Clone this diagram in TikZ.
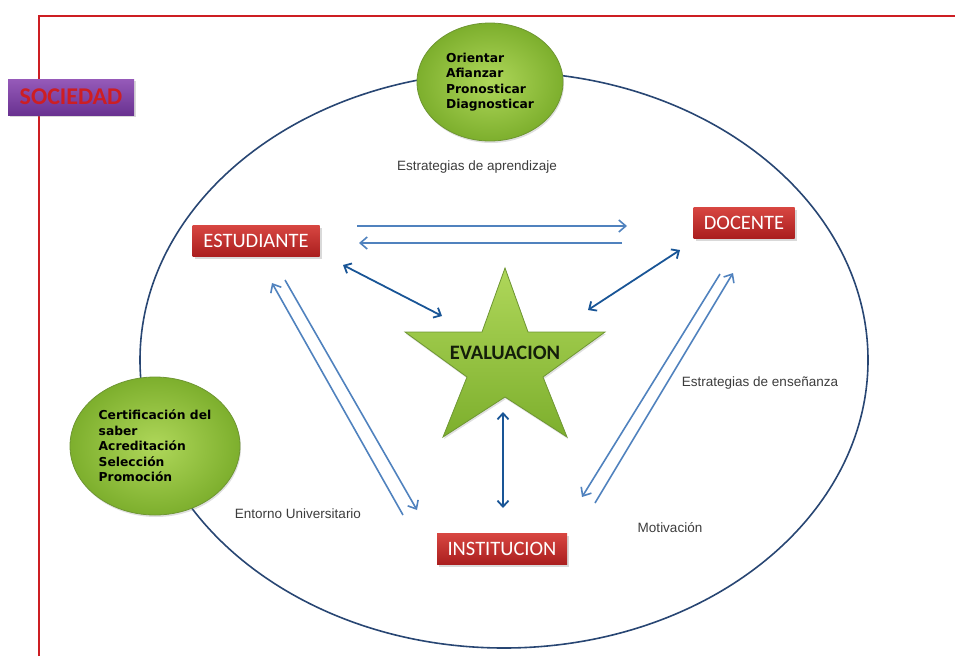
\documentclass[tikz,border=0pt]{standalone}
\usepackage{fontspec}
\setmainfont{Liberation Sans}
\newfontfamily\boxfont{Carlito}
\newfontfamily\leaffont{DejaVu Sans}[BoldFont={DejaVu Sans Bold}]
\usetikzlibrary{arrows.meta,shadows,shapes.geometric}

\definecolor{framered}{RGB}{205,30,35}
\definecolor{ringblue}{RGB}{40,70,115}
\definecolor{pairblue}{RGB}{80,130,190}
\definecolor{dblblue}{RGB}{25,85,150}
\definecolor{boxtop}{RGB}{215,70,65}
\definecolor{boxbot}{RGB}{170,30,30}
\definecolor{leaflight}{RGB}{175,215,90}
\definecolor{leafdark}{RGB}{125,175,45}
\definecolor{leafline}{RGB}{110,150,50}
\definecolor{soctop}{RGB}{150,90,185}
\definecolor{socbot}{RGB}{105,50,145}
\definecolor{labelgray}{RGB}{60,60,60}

\tikzset{
  actor/.style={rectangle, top color=boxtop, bottom color=boxbot, text=white,
    font=\boxfont\fontsize{20.5}{22}\selectfont, minimum height=31pt, inner sep=0pt,
    drop shadow={opacity=0.3, shadow xshift=2pt, shadow yshift=-2pt}},
  leaf/.style={ellipse, draw=leafline, line width=0.8pt, inner color=leaflight, outer color=leafdark,
    font=\leaffont\bfseries\fontsize{12.3}{15.5}\selectfont, align=left,
    drop shadow={opacity=0.25, shadow xshift=1pt, shadow yshift=-2pt}},
  tag/.style={text=labelgray, font=\fontsize{13.5}{15}\selectfont},
  pair/.style={draw=pairblue, line width=1.6pt, -{Straight Barb[length=7pt,width=12pt]}},
  dbl/.style={draw=dblblue, line width=1.8pt, {Straight Barb[length=6pt,width=11pt]}-{Straight Barb[length=6pt,width=11pt]}}
}

\begin{document}
\begin{tikzpicture}[x=1pt,y=-1pt]
  \useasboundingbox (0,0) rectangle (955,656);

  \draw[framered, line width=2pt] (39,656) -- (39,16) -- (955,16);
  \draw[ringblue, line width=1.6pt] (504,360) ellipse [x radius=364, y radius=288];

  \node[rectangle, top color=soctop, bottom color=socbot, text=framered,
    font=\boxfont\bfseries\fontsize{24}{26}\selectfont, minimum width=126pt, minimum height=36pt,
    drop shadow={opacity=0.3, shadow xshift=2pt, shadow yshift=-2pt}] (soc) at (71,97) {SOCIEDAD};

  \node[leaf, minimum width=146pt, minimum height=118pt] (orient) at (490,82)
    {Orientar\\Afianzar\\Pronosticar\\Diagnosticar};
  \node[leaf, minimum width=170pt, minimum height=138pt] (certif) at (155,446)
    {Certificación del\\saber\\Acreditación\\Selección\\Promoción};

  \shade[top color=leaflight, bottom color=leafdark, draw=leafline, line width=0.8pt,
    drop shadow={opacity=0.25, shadow xshift=1pt, shadow yshift=-2pt}]
    (505,268) -- (528,332) -- (605,332) -- (543,377) -- (567,437) -- (505,397)
    -- (443,437) -- (467,377) -- (405,332) -- (482,332) -- cycle;
  \node[font=\boxfont\bfseries\fontsize{20.5}{22}\selectfont, text={rgb,255:red,20;green,30;blue,10}] (eval) at (505,353) {EVALUACION};

  \node[actor, minimum width=127pt] (est) at (256,241) {ESTUDIANTE};
  \node[actor, minimum width=101pt] (doc) at (744,223) {DOCENTE};
  \node[actor, minimum width=130pt] (inst) at (502,549) {INSTITUCION};

  \node[tag] (apr) at (477,167) {Estrategias de aprendizaje};
  \node[tag] (ens) at (760,383) {Estrategias de enseñanza};
  \node[tag] (ent) at (298,514) {Entorno Universitario};
  \node[tag] (mot) at (670,528) {Motivación};

  \coordinate (ed1) at (357,226);  \coordinate (ed2) at (627,226);
  \coordinate (de1) at (622,243);  \coordinate (de2) at (359,243);
  \coordinate (ie1) at (403,515);  \coordinate (ie2) at (272,283);
  \coordinate (ei1) at (285,280);  \coordinate (ei2) at (417,510);
  \coordinate (di1) at (720,274);  \coordinate (di2) at (582,497);
  \coordinate (id1) at (595,503);  \coordinate (id2) at (733,273);
  \coordinate (xe1) at (343,265);  \coordinate (xe2) at (442,316);
  \coordinate (xd1) at (680,250);  \coordinate (xd2) at (588,310);
  \coordinate (xi1) at (503,412);  \coordinate (xi2) at (503,508);

  \draw[pair] (ed1) -- (ed2);
  \draw[pair] (de1) -- (de2);
  \draw[pair] (ie1) -- (ie2);
  \draw[pair] (ei1) -- (ei2);
  \draw[pair] (di1) -- (di2);
  \draw[pair] (id1) -- (id2);

  \draw[dbl] (xe1) -- (xe2);
  \draw[dbl] (xd1) -- (xd2);
  \draw[dbl] (xi1) -- (xi2);

\end{tikzpicture}
\end{document}
